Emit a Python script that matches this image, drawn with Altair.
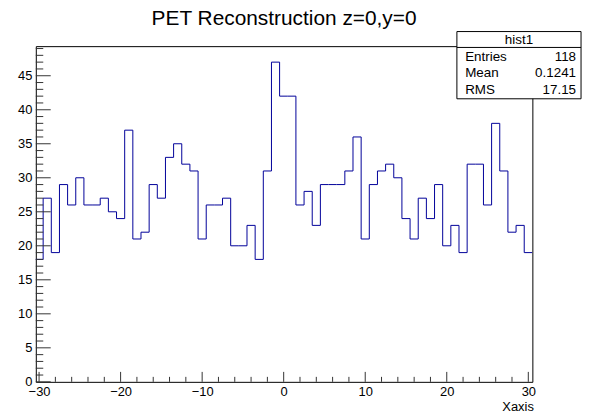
import altair as alt
import pandas as pd

# Histogram data (bin -30 ... 30, width 1, edges at half-integers)
x_min = -30.5
bin_width = 1.0
counts = [18, 27, 19, 29, 26, 30, 26, 26, 27, 25, 24, 37, 21, 22, 29, 27, 33, 35, 32, 31,
          21, 26, 26, 27, 20, 20, 23, 18, 31, 47, 42, 42, 26, 28, 23, 29, 29, 29, 31, 36,
          21, 29, 31, 32, 30, 24, 21, 27, 24, 29, 20, 23, 19, 32, 32, 26, 38, 31, 22, 23, 19]

x_tick_labels = [-30, -20, -10, 0, 10, 20, 30]
x_minor_ticks = [v for v in range(-30, 31, 2) if v % 10 != 0]
y_tick_labels = [0, 5, 10, 15, 20, 25, 30, 35, 40, 45]
y_minor_ticks = [v for v in range(0, 50) if v % 5 != 0]

title_text = "PET Reconstruction z=0,y=0"
x_title = "Xaxis"
stats_title = "hist1"
stat_names = ["Entries", "Mean", "RMS"]
stat_values = ["118", "0.1241", "17.15"]

FONT = "Liberation Sans"
LINE = "#000099"
W, H = 500, 338

edges = [x_min + i * bin_width for i in range(len(counts) + 1)]
hist_df = pd.DataFrame({"x": edges, "y": counts + [counts[-1]]})

xs = alt.Scale(domain=[-30.4, 30.5], nice=False, zero=False)
ys = alt.Scale(domain=[0, 49.35], nice=False)

x_axis = alt.Axis(
    values=x_tick_labels, ticks=False, domain=False, grid=False,
    labelFont=FONT, labelFontSize=13, labelColor="black", labelPadding=4,
    title=x_title, titleFont=FONT, titleFontSize=13, titleFontWeight="normal",
    titleColor="black", titleX=W + 1, titleY=29, titleAlign="right",
    titleBaseline="alphabetic", titleAnchor="end")

hist = alt.Chart(hist_df).mark_line(
    interpolate="step-after", color=LINE, strokeWidth=1, clip=True
).encode(
    x=alt.X("x:Q", scale=xs, axis=x_axis),
    y=alt.Y("y:Q", scale=ys, axis=alt.Axis(
        values=y_tick_labels, ticks=False, domain=False, grid=False,
        labelFont=FONT, labelFontSize=13, labelColor="black", labelPadding=4,
        title=None)),
)

TICK = "#333333"

def yticks(vals, length):
    return alt.Chart(pd.DataFrame({"v": vals})).mark_rule(color=TICK, strokeWidth=1).encode(
        y=alt.Y("v:Q", scale=ys, axis=None), x=alt.value(0), x2=alt.value(length))

def xticks(vals, length):
    return alt.Chart(pd.DataFrame({"v": vals})).mark_rule(color=TICK, strokeWidth=1).encode(
        x=alt.X("v:Q", scale=xs, axis=x_axis), y=alt.value(H), y2=alt.value(H - length))

one = pd.DataFrame({"a": [0]})

title = alt.Chart(one).mark_text(
    text=title_text, font=FONT, fontSize=21, align="center", baseline="alphabetic", color="black"
).encode(x=alt.value(W / 2), y=alt.value(-21.7))

# stats box
bx0, bx1, by0, by1 = 424, 549, -14.7, 53
box = alt.Chart(one).mark_rect(fill="white", stroke="black", strokeWidth=1).encode(
    x=alt.value(bx0), x2=alt.value(bx1), y=alt.value(by0), y2=alt.value(by1))
sep = alt.Chart(one).mark_rule(color="black", strokeWidth=1).encode(
    x=alt.value(bx0), x2=alt.value(bx1), y=alt.value(1.3))
box_title = alt.Chart(one).mark_text(
    text=stats_title, font=FONT, fontSize=13.5, align="center", baseline="alphabetic", color="black"
).encode(x=alt.value((bx0 + bx1) / 2), y=alt.value(-2.3))

stats_df = pd.DataFrame({"name": stat_names, "value": stat_values, "row": [0, 1, 2]})
row_y = alt.Y("row:Q", scale=alt.Scale(domain=[0, 2], range=[14.7, 47.7]), axis=None)
names = alt.Chart(stats_df).mark_text(
    font=FONT, fontSize=13.5, align="left", baseline="alphabetic", color="black"
).encode(text="name:N", x=alt.value(432.3), y=row_y)
vals = alt.Chart(stats_df).mark_text(
    font=FONT, fontSize=13.5, align="right", baseline="alphabetic", color="black"
).encode(text="value:N", x=alt.value(544), y=row_y)

chart = alt.layer(
    hist,
    yticks(y_tick_labels, 15), yticks(y_minor_ticks, 7.5),
    xticks(x_tick_labels, 10), xticks(x_minor_ticks, 5),
    title, box, sep, box_title, names, vals,
).resolve_scale(y="independent").properties(
    width=W, height=H,
    autosize=alt.AutoSizeParams(type="none"),
    padding={"left": 28, "top": 37, "right": 55, "bottom": 35},
    background="white",
).configure_view(stroke="black", strokeWidth=1)

chart.save("out.html", embed_options={"renderer": "svg", "actions": False})
